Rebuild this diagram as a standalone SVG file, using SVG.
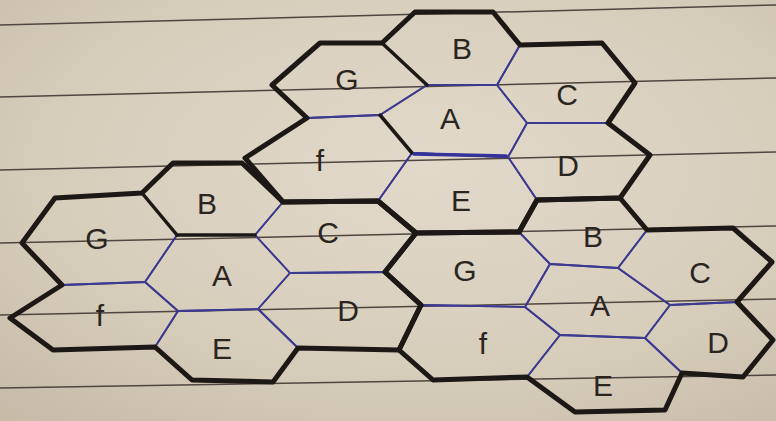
<svg xmlns="http://www.w3.org/2000/svg" width="776" height="421" viewBox="0 0 776 421">
<defs>
<radialGradient id="paper" cx="0.55" cy="0.4" r="0.8">
<stop offset="0" stop-color="#e1d9ca"/>
<stop offset="0.6" stop-color="#d7cdbb"/>
<stop offset="1" stop-color="#c6bba7"/>
</radialGradient>
<style>
.rule{stroke:#4f463f;stroke-width:1.5;fill:none}
.hex{fill:none;stroke:#3c3a90;stroke-width:1.8;stroke-linejoin:round}
.ink{fill:none;stroke:#1b1815;stroke-width:5;stroke-linejoin:round;stroke-linecap:round}
.ink2{fill:none;stroke:#1b1815;stroke-width:3.5;stroke-linecap:round}
.blue2{fill:none;stroke:#35339a;stroke-width:3.5;stroke-linecap:round}
.lbl{font-family:"Liberation Sans",Arial,sans-serif;font-size:30px;fill:#2a2521;text-anchor:middle;dominant-baseline:central}
</style>
</defs>
<rect x="0" y="0" width="776" height="421" fill="url(#paper)"/>
<g id="ruled-lines">
<line class="rule" x1="0" y1="25" x2="776" y2="5"/>
<line class="rule" x1="0" y1="97" x2="776" y2="78"/>
<line class="rule" x1="0" y1="170" x2="776" y2="152"/>
<line class="rule" x1="0" y1="243" x2="776" y2="226"/>
<line class="rule" x1="0" y1="315" x2="776" y2="299"/>
<line class="rule" x1="0" y1="388" x2="776" y2="375"/>
</g>
<g id="cluster1">
<g id="c1-B"><polygon class="hex" points="382,43 415,12 493,12 520,45 497,85 427,85"/><text class="lbl" x="462" y="48">B</text></g>
<g id="c1-G"><polygon class="hex" points="272,85 320,43 382,43 427,85 380,115 307,118"/><text class="lbl" x="347" y="79">G</text></g>
<g id="c1-C"><polygon class="hex" points="497,85 520,45 602,43 635,83 608,123 527,123"/><text class="lbl" x="567" y="94">C</text></g>
<g id="c1-A"><polygon class="hex" points="380,115 427,85 497,85 527,123 508,157 412,153"/><text class="lbl" x="450" y="118">A</text></g>
<g id="c1-D"><polygon class="hex" points="508,157 527,123 608,123 650,155 620,198 537,200"/><text class="lbl" x="568" y="165">D</text></g>
<g id="c1-E"><polygon class="hex" points="378,201 412,153 508,157 537,200 519,232 416,233"/><text class="lbl" x="461" y="200">E</text></g>
<g id="c1-f"><polygon class="hex" points="245,158 307,118 380,115 412,153 378,201 283,202"/><text class="lbl" x="320" y="160">f</text></g>
</g>
<g id="cluster2">
<g id="c2-B"><polygon class="hex" points="142,193 173,163 242,163 283,202 255,235 177,235"/><text class="lbl" x="207" y="203">B</text></g>
<g id="c2-G"><polygon class="hex" points="22,243 55,198 142,193 177,235 145,282 62,285"/><text class="lbl" x="97" y="238">G</text></g>
<g id="c2-A"><polygon class="hex" points="145,282 177,235 255,235 290,273 258,309 178,311"/><text class="lbl" x="222" y="275">A</text></g>
<g id="c2-C"><polygon class="hex" points="255,235 283,202 378,201 416,233 385,272 290,273"/><text class="lbl" x="328" y="232">C</text></g>
<g id="c2-D"><polygon class="hex" points="258,309 290,273 385,272 421,305 399,350 298,348"/><text class="lbl" x="348" y="310">D</text></g>
<g id="c2-f"><polygon class="hex" points="10,318 62,285 145,282 178,311 155,347 53,350"/><text class="lbl" x="100" y="315">f</text></g>
<g id="c2-E"><polygon class="hex" points="155,347 178,311 258,309 298,348 273,382 192,380"/><text class="lbl" x="222" y="348">E</text></g>
</g>
<g id="cluster3">
<g id="c3-B"><polygon class="hex" points="519,232 537,200 620,198 647,230 618,268 550,264"/><text class="lbl" x="593" y="236">B</text></g>
<g id="c3-G"><polygon class="hex" points="385,272 416,233 519,232 550,264 525,307 421,305"/><text class="lbl" x="465" y="270">G</text></g>
<g id="c3-C"><polygon class="hex" points="618,268 647,230 733,228 772,262 737,302 670,305"/><text class="lbl" x="700" y="272">C</text></g>
<g id="c3-A"><polygon class="hex" points="525,307 550,264 618,268 670,305 645,338 560,335"/><text class="lbl" x="600" y="305">A</text></g>
<g id="c3-D"><polygon class="hex" points="645,338 670,305 737,302 773,340 743,377 682,373"/><text class="lbl" x="718" y="342">D</text></g>
<g id="c3-f"><polygon class="hex" points="399,350 421,305 525,307 560,335 527,377 433,380"/><text class="lbl" x="483" y="343">f</text></g>
<g id="c3-E"><polygon class="hex" points="527,377 560,335 645,338 682,373 665,410 575,412"/><text class="lbl" x="603" y="385">E</text></g>
</g>
<g id="outlines">
<polygon class="ink" points="272,85 320,43 382,43 415,12 493,12 520,45 602,43 635,83 608,123 650,155 620,198 537,200 519,232 416,233 378,201 283,202 245,158 307,118"/>
<polygon class="ink" points="22,243 55,198 142,193 173,163 242,163 283,202 378,201 416,233 385,272 421,305 399,350 298,348 273,382 192,380 155,347 53,350 10,318 62,285"/>
<polygon class="ink" points="385,272 416,233 519,232 537,200 620,198 647,230 733,228 772,262 737,302 773,340 743,377 682,373 665,410 575,412 527,377 433,380 399,350 421,305"/>
<line class="ink2" x1="382" y1="43" x2="427" y2="85"/>
<line class="ink2" x1="380" y1="115" x2="412" y2="153"/>
<line class="ink2" x1="142" y1="193" x2="177" y2="235"/>
<line class="ink2" x1="177" y1="235" x2="255" y2="235"/>
<line class="blue2" x1="414" y1="154" x2="506" y2="156"/>
</g>
</svg>
